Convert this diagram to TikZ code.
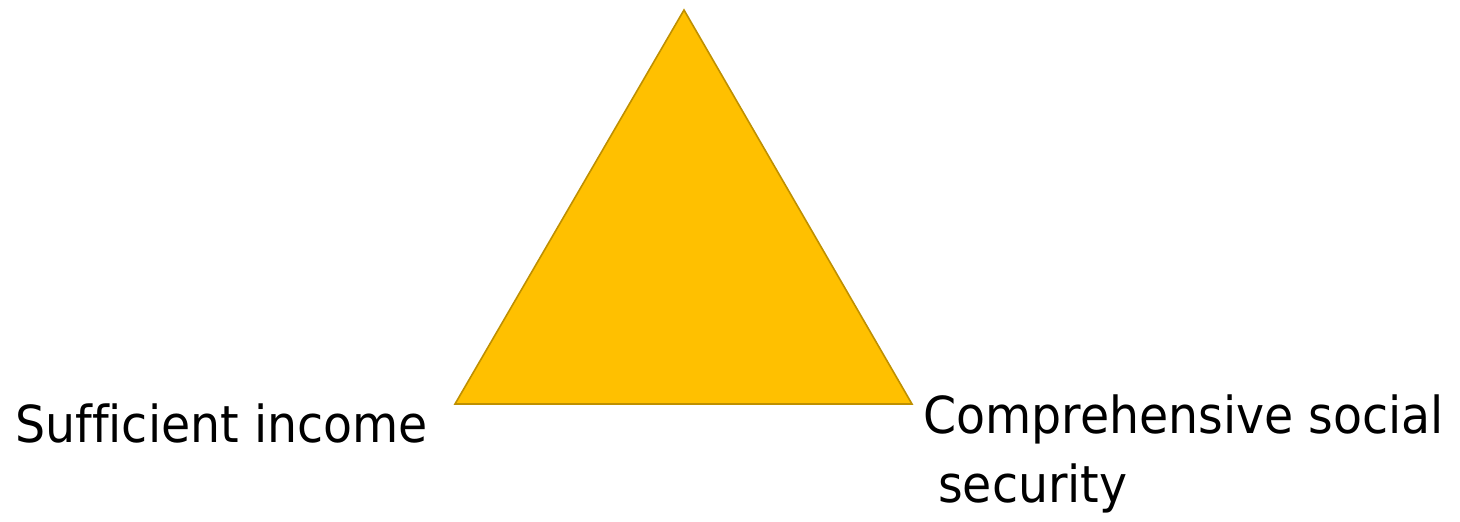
\documentclass[tikz,border=0pt]{standalone}
\usepackage{fontspec}
\setmainfont[Ligatures=NoCommon,FakeStretch=0.93]{DejaVu Sans}
\definecolor{gold}{HTML}{FFC000}
\definecolor{golddark}{HTML}{BF9000}
\begin{document}
\begin{tikzpicture}[x=1pt,y=-1pt,
  lbl/.style={inner sep=0pt,anchor=base west,font=\fontsize{51}{69}\selectfont},
  tri/.style={fill=gold,draw=golddark,line width=1.6pt,line join=miter}]
\useasboundingbox (0,0) rectangle (1460,522);
\coordinate (top) at (684,10);
\coordinate (bl) at (455,404);
\coordinate (br) at (912,404);
\draw[tri] (top) -- (bl) -- (br) -- cycle;
\node[lbl] (income) at (15,442) {Sufficient income};
\node[lbl] (social) at (923,433) {Comprehensive social};
\node[lbl] (security) at (938,502) {security};
\end{tikzpicture}
\end{document}
